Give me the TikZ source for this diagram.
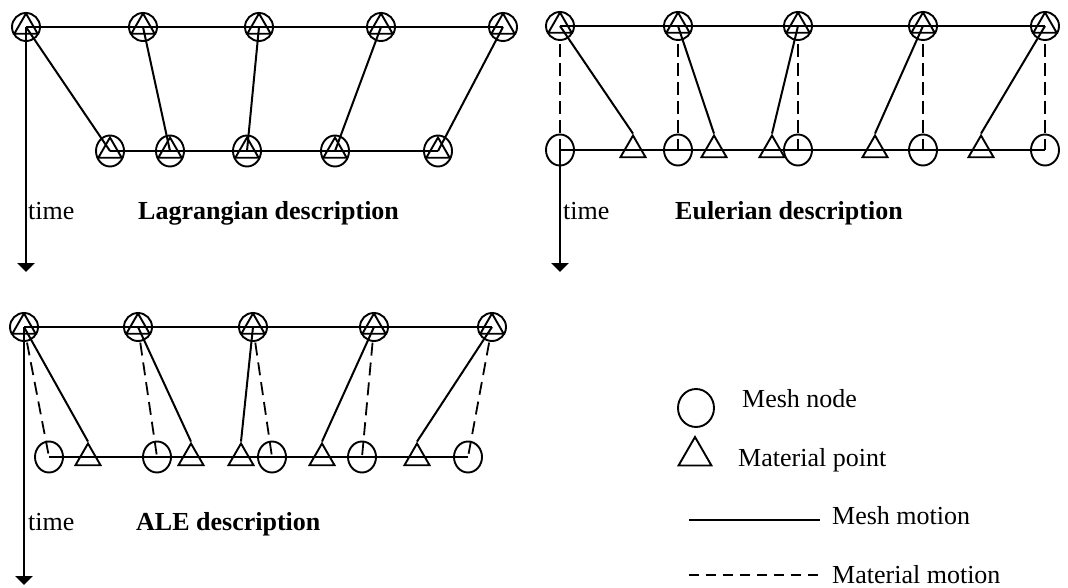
\documentclass[tikz,border=0pt]{standalone}
\usepackage{fontspec}
\setmainfont{Liberation Serif}
\usetikzlibrary{shapes.geometric,arrows.meta,calc}

\tikzset{
  meshnode/.style={ellipse,draw,line width=1.9pt,minimum width=28pt,minimum height=28pt,inner sep=0pt},
  meshlow/.style={meshnode,minimum height=31pt},
  matpoint/.style={regular polygon,regular polygon sides=3,draw,line width=1.9pt,minimum size=29pt,inner sep=0pt},
  matinner/.style={matpoint,minimum size=27pt},
  meshline/.style={line width=2.8pt},
  meshmove/.style={line width=2pt},
  matmove/.style={line width=2.4pt,dash pattern=on 13pt off 6pt},
  matmovethin/.style={line width=1.8pt,dash pattern=on 13pt off 7pt},
  timeaxis/.style={line width=2.2pt,-{Triangle[width=17pt,length=9pt]}},
  lbl/.style={anchor=base west,inner sep=0pt,font=\fontsize{26}{30}\selectfont},
  title/.style={lbl,font=\fontsize{26}{30}\selectfont\bfseries}
}

\begin{document}
\begin{tikzpicture}[x=1pt,y=-1pt]
\useasboundingbox (0,0) rectangle (1068,588);

% ---------------- Lagrangian description ----------------
\foreach \x [count=\i] in {26,143,259,381,503} {
  \node[meshnode] (LT\i) at (\x,27) {};
  \node[matinner] (LTm\i) at (\x,27) {};
}
\foreach \x [count=\i] in {110,170,247,335,438} {
  \node[meshlow] (LB\i) at (\x,151) {};
  \node[matinner] (LBm\i) at (\x,151) {};
}
\draw[meshline] (LT1.center) -- (LT5.center);
\draw[meshline] (LB1.center) -- (LB5.center);
\foreach \i in {1,...,5}
  \draw[meshmove] (LT\i.center) -- (LB\i.center);
\coordinate (Lend) at (26,272);
\draw[timeaxis] (LT1.center) -- (Lend);
\node[lbl] (Ltime) at (28,220) {time};
\node[title] (Ltitle) at (138,220) {Lagrangian description};

% ---------------- Eulerian description ----------------
\foreach \x [count=\i] in {560,678,798,923,1045} {
  \node[meshnode] (ET\i) at (\x,26) {};
  \node[matinner] (ETm\i) at (\x,26) {};
  \node[meshlow] (EB\i) at (\x,150) {};
}
\foreach \x [count=\i] in {633,714,772,875,981}
  \node[matpoint] (EBm\i) at (\x,150) {};
\draw[meshline] (ET1.center) -- (ET5.center);
\draw[meshline] (EB1.center) -- (EB5.center);
\foreach \i in {1,...,5} {
  \draw[meshmove] (ET\i.center) -- (EBm\i.corner 1);
  \draw[matmove] (ET\i.center) ++(0,18) -- (EB\i.center);
}
\coordinate (Eend) at (560,272);
\draw[timeaxis] (EB1.center) -- (Eend);
\node[lbl] (Etime) at (563,220) {time};
\node[title] (Etitle) at (675,220) {Eulerian description};

% ---------------- ALE description ----------------
\foreach \x [count=\i] in {24,138,253,374,492} {
  \node[meshnode] (AT\i) at (\x,327) {};
  \node[matinner] (ATm\i) at (\x,327) {};
}
\foreach \x [count=\i] in {49,157,272,362,468}
  \node[meshlow] (AB\i) at (\x,457) {};
\foreach \x [count=\i] in {88,191,241,322,417}
  \node[matpoint] (ABm\i) at (\x,458) {};
\draw[meshline] (AT1.center) -- (AT5.center);
\draw[meshline] (AB1.center) -- (AB5.center);
\foreach \i in {1,...,5} {
  \draw[meshmove] (AT\i.center) -- (ABm\i.corner 1);
  \draw[matmovethin] ($(AT\i.center)!0.12!(AB\i.center)$) -- (AB\i.center);
}
\coordinate (Aend) at (24,585);
\draw[timeaxis] (AT1.center) -- (Aend);
\node[lbl] (Atime) at (28,530) {time};
\node[title] (Atitle) at (136,530) {ALE description};

% ---------------- Legend ----------------
\node[meshnode,minimum width=36pt,minimum height=38pt] (KeyMesh) at (696,408) {};
\node[lbl] (KeyMeshTxt) at (742,407) {Mesh node};
\node[matpoint,minimum size=38pt] (KeyMat) at (695,456) {};
\node[lbl] (KeyMatTxt) at (738,466) {Material point};
\coordinate (KeySolidA) at (689,520);
\coordinate (KeySolidB) at (820,520);
\draw[meshmove] (KeySolidA) -- (KeySolidB);
\node[lbl] (KeySolidTxt) at (832,524) {Mesh motion};
\coordinate (KeyDashA) at (689,575);
\coordinate (KeyDashB) at (820,575);
\draw[line width=2pt,dash pattern=on 10pt off 7pt] (KeyDashA) -- (KeyDashB);
\node[lbl] (KeyDashTxt) at (832,583) {Material motion};
\end{tikzpicture}
\end{document}
